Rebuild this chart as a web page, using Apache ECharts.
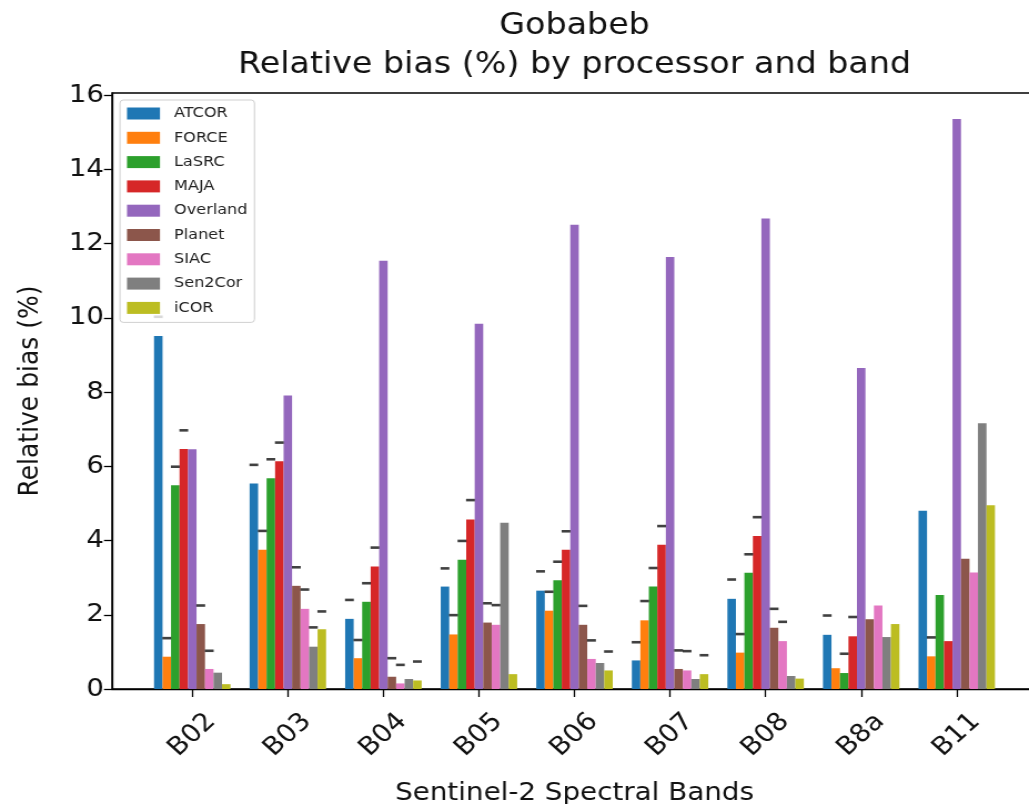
<!DOCTYPE html>
<html>
<head>
<meta charset="utf-8">
<script src="https://cdn.jsdelivr.net/npm/echarts@6/dist/echarts.min.js"></script>
<style>
  html, body { margin: 0; padding: 0; background: #ffffff; overflow: hidden; }
  #frame { position: relative; width: 1030px; height: 804px; overflow: hidden; }
  #chart { position: absolute; left: 0; top: 0; height: 804px; transform-origin: 0 0; }
</style>
</head>
<body>
<div id="frame"><div id="chart"></div></div>
<script>
// Sentinel-2 bands on the x axis
const bands = ['B02', 'B03', 'B04', 'B05', 'B06', 'B07', 'B08', 'B8a', 'B11'];

// Atmospheric correction processors (one bar per processor in each band group)
const processors = ['ATCOR', 'FORCE', 'LaSRC', 'MAJA', 'Overland', 'Planet', 'SIAC', 'Sen2Cor', 'iCOR'];

// Relative bias (%) per processor, in band order
const atcor    = [9.51, 5.54, 1.89, 2.76, 2.65, 0.77, 2.43, 1.46, 4.80];
const force    = [0.87, 3.75, 0.83, 1.47, 2.11, 1.85, 0.98, 0.56, 0.88];
const lasrc    = [5.49, 5.68, 2.35, 3.48, 2.93, 2.76, 3.13, 0.43, 2.53];
const maja     = [6.47, 6.14, 3.30, 4.57, 3.75, 3.89, 4.12, 1.42, 1.29];
const overland = [6.46, 7.91, 11.54, 9.84, 12.51, 11.64, 12.68, 8.65, 15.36];
const planet   = [1.75, 2.78, 0.33, 1.79, 1.73, 0.54, 1.65, 1.88, 3.51];
const siac     = [0.54, 2.16, 0.15, 1.73, 0.81, 0.50, 1.29, 2.25, 3.14];
const sen2cor  = [0.44, 1.14, 0.27, 4.48, 0.70, 0.27, 0.35, 1.40, 7.16];
const icor     = [0.13, 1.61, 0.23, 0.40, 0.50, 0.40, 0.28, 1.75, 4.95];

// Upper error-bar cap heights (%); null where no cap is drawn
const atcorCap    = [10.03, 6.04, 2.40, 3.25, 3.17, 1.26, 2.95, 1.98, null];
const forceCap    = [1.37, 4.26, 1.32, 1.99, 2.62, 2.37, 1.48, null, 1.39];
const lasrcCap    = [5.99, 6.19, 2.85, 3.99, 3.43, 3.26, 3.63, 0.95, null];
const majaCap     = [6.97, 6.64, 3.81, 5.09, 4.25, 4.39, 4.63, 1.94, null];
const overlandCap = [null, null, null, null, null, null, null, null, null];
const planetCap   = [2.25, 3.28, 0.83, 2.31, 2.24, 1.04, 2.16, null, null];
const siacCap     = [1.03, 2.68, 0.65, 2.26, 1.31, 1.02, 1.81, null, null];
const sen2corCap  = [null, 1.66, null, null, null, null, null, null, null];
const icorCap     = [null, 2.09, 0.74, null, 1.01, 0.91, null, null, null];

// Y axis tick labels
const yTicks = [0, 2, 4, 6, 8, 10, 12, 14, 16];

const biasValues = [atcor, force, lasrc, maja, overland, planet, siac, sen2cor, icor];
const capValues = [atcorCap, forceCap, lasrcCap, majaCap, overlandCap, planetCap, siacCap, sen2corCap, icorCap];
const colors = ['#1f77b4', '#ff7f0e', '#2ca02c', '#d62728', '#9467bd',
                '#8c564b', '#e377c2', '#7f7f7f', '#bcbd22'];

// The figure is drawn on a narrower canvas and widened horizontally by SX,
// so every horizontal length below is given in page pixels and divided by SX.
const SX = 1.11;
const hx = v => v / SX;

const FONT = 'DejaVu Sans';
const groupFraction = 0.8;                          // share of each band taken by its bars
const barUnit = groupFraction / processors.length;  // width of one bar in axis units
const bandIdx = bands.map((_, i) => i);

const barSeries = processors.map((name, j) => ({
  name: name,
  type: 'bar',
  barWidth: (100 * barUnit) + '%',
  barGap: '0%',
  itemStyle: { color: colors[j] },
  data: biasValues[j].map((v, i) => [i, v]),
  z: 2
}));

const capPoints = [];
processors.forEach((_, j) => {
  capValues[j].forEach((c, i) => {
    if (c !== null) capPoints.push([i + (j - (processors.length - 1) / 2) * barUnit, c]);
  });
});

const capSeries = {
  name: 'caps',
  type: 'scatter',
  symbol: 'rect',
  symbolSize: [hx(8.8), 2.6],
  itemStyle: { color: '#111111' },
  silent: true,
  data: capPoints,
  z: 3
};

const el = document.getElementById('chart');
el.style.width = Math.floor(hx(1030)) + 'px';
el.style.transform = 'scaleX(' + SX + ')';

const chart = echarts.init(el, null, { renderer: 'canvas' });
chart.setOption({
  animation: false,
  backgroundColor: '#ffffff',
  textStyle: { fontFamily: FONT },
  title: {
    text: 'Gobabeb\nRelative bias (%) by processor and band',
    left: hx(569),
    top: 2,
    textAlign: 'center',
    textStyle: { fontFamily: FONT, fontSize: 30, fontWeight: 'normal', color: '#111', lineHeight: 39 }
  },
  legend: {
    orient: 'vertical',
    left: hx(120),
    top: 100,
    data: processors.map(n => ({ name: n, icon: 'rect' })),
    itemWidth: hx(33),
    itemHeight: 12,
    itemGap: 9.3,
    padding: [6, hx(7), 7, hx(7)],
    backgroundColor: 'rgba(255,255,255,0.8)',
    borderColor: '#d0d0d0',
    borderWidth: 1,
    borderRadius: 3,
    selectedMode: false,
    textStyle: { fontFamily: FONT, fontSize: 14.5, color: '#222', padding: [0, 0, 0, hx(14) - 5] }
  },
  grid: {
    left: hx(112),
    top: 93,
    width: hx(925),
    height: 596,
    show: true,
    borderColor: '#000',
    borderWidth: 1.3,
    containLabel: false,
    outerBoundsMode: 'none'
  },
  xAxis: {
    type: 'value',
    min: -0.84,
    max: 8.84,
    name: 'Sentinel-2 Spectral Bands',
    nameLocation: 'middle',
    nameGap: 92,
    nameTextStyle: { fontFamily: FONT, fontSize: 25, color: '#111' },
    axisLine: { show: true, onZero: false, lineStyle: { color: '#000', width: 1.3 } },
    axisTick: { show: true, customValues: bandIdx, length: 8, lineStyle: { color: '#000', width: 1.3 } },
    axisLabel: {
      customValues: bandIdx,
      formatter: v => bands[Math.round(v)],
      rotate: 45,
      align: 'center',
      verticalAlign: 'middle',
      margin: 46,
      fontFamily: FONT,
      fontSize: 25,
      color: '#111'
    },
    splitLine: { show: false }
  },
  yAxis: {
    type: 'value',
    min: 0,
    max: 16.06,
    name: 'Relative bias (%)',
    nameLocation: 'middle',
    nameGap: hx(68),
    nameTextStyle: { fontFamily: FONT, fontSize: 25, color: '#111' },
    axisLine: { show: true, onZero: false, lineStyle: { color: '#000', width: 1.3 } },
    axisTick: { show: true, customValues: yTicks, length: hx(8), lineStyle: { color: '#000', width: 1.3 } },
    axisLabel: { customValues: yTicks, margin: hx(8), fontFamily: FONT, fontSize: 25, color: '#111' },
    splitLine: { show: false }
  },
  series: barSeries.concat([capSeries])
});
</script>
</body>
</html>
